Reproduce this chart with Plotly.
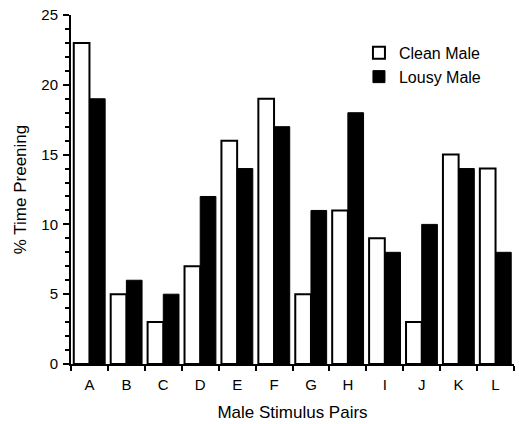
import plotly.graph_objects as go

categories = ["A", "B", "C", "D", "E", "F", "G", "H", "I", "J", "K", "L"]
clean_male = [23, 5, 3, 7, 16, 19, 5, 11, 9, 3, 15, 14]
lousy_male = [19, 6, 5, 12, 14, 17, 11, 18, 8, 10, 14, 8]
y_ticks = [0, 5, 10, 15, 20, 25]

FONT = "Liberation Sans, Arial, Helvetica, sans-serif"

fig = go.Figure()
fig.add_trace(go.Bar(
    x=categories, y=clean_male, name="Clean Male",
    marker=dict(color="white", line=dict(color="black", width=2)),
))
fig.add_trace(go.Bar(
    x=categories, y=lousy_male, name="Lousy Male",
    marker=dict(color="black", line=dict(color="black", width=1)),
))

fig.update_layout(
    width=519, height=424,
    margin=dict(l=71, r=5, t=15, b=60),
    paper_bgcolor="white", plot_bgcolor="white",
    barmode="group", bargap=0.15, bargroupgap=0,
    font=dict(family=FONT, color="black", size=15),
    legend=dict(
        x=0.65, y=0.94, xanchor="left", yanchor="top",
        font=dict(size=16), bgcolor="rgba(0,0,0,0)",
        tracegroupgap=2,
    ),
    showlegend=True,
)
fig.update_xaxes(
    type="category", range=[-0.5, 11.5], automargin=False,
    showline=True, linecolor="black", linewidth=2,
    ticks="outside", tickson="boundaries", ticklen=5, tickwidth=2, tickcolor="black",
    showgrid=False, zeroline=False,
    tickfont=dict(size=15), ticklabelstandoff=6,
    title=dict(text="Male Stimulus Pairs", font=dict(size=17), standoff=14),
)
fig.update_yaxes(
    range=[0, 25], tickvals=y_ticks, automargin=False,
    showline=True, linecolor="black", linewidth=2,
    ticks="outside", ticklen=6, tickwidth=2, tickcolor="black",
    minor=dict(ticks="outside", dtick=1, ticklen=4, tickwidth=1.5, tickcolor="black", showgrid=False),
    showgrid=False, zeroline=False,
    tickfont=dict(size=15), ticklabelstandoff=2,
    title=dict(text="% Time Preening", font=dict(size=17), standoff=10),
)

fig.write_html("out.html")
